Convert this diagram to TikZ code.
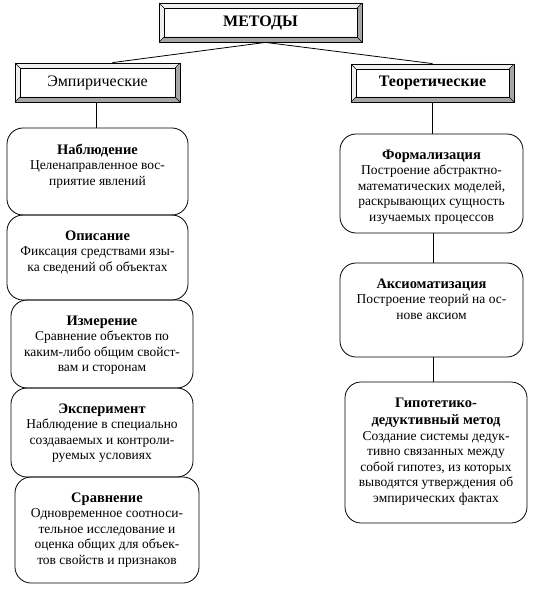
\documentclass[tikz,border=0pt]{standalone}
\usepackage{fontspec}
\setmainfont{Liberation Serif}
\usetikzlibrary{positioning}

\tikzset{
  bevel/.style={draw, line width=0.8pt, inner sep=0pt,
    font=\fontsize{16}{18}\selectfont,
    path picture={
      \coordinate (bsw) at (path picture bounding box.south west);
      \coordinate (bne) at (path picture bounding box.north east);
      \coordinate (bse) at (bsw -| bne);
      \coordinate (bnw) at (bsw |- bne);
      \fill[gray!70] (bsw) -- (bse) -- ([shift={(-5pt,5pt)}]bse) -- ([shift={(5pt,5pt)}]bsw) -- cycle;
      \fill[gray!70] (bse) -- (bne) -- ([shift={(-5pt,-5pt)}]bne) -- ([shift={(-5pt,5pt)}]bse) -- cycle;
      \fill[gray!12] (bnw) -- (bne) -- ([shift={(-5pt,-5pt)}]bne) -- ([shift={(5pt,-5pt)}]bnw) -- cycle;
      \fill[gray!12] (bsw) -- (bnw) -- ([shift={(5pt,-5pt)}]bnw) -- ([shift={(5pt,5pt)}]bsw) -- cycle;
      \draw[line width=0.6pt] ([shift={(5pt,5pt)}]bsw) rectangle ([shift={(-5pt,-5pt)}]bne);
      \draw[line width=0.4pt] (bsw) -- ([shift={(5pt,5pt)}]bsw) (bse) -- ([shift={(-5pt,5pt)}]bse)
        (bne) -- ([shift={(-5pt,-5pt)}]bne) (bnw) -- ([shift={(5pt,-5pt)}]bnw);
    }},
  method/.style={draw, line width=0.8pt, rounded corners=16pt},
  mtext/.style={anchor=north, align=center, inner sep=0pt,
    font=\fontsize{13.5}{15.5}\selectfont},
  link/.style={line width=0.8pt}
}
\newcommand{\mhead}[1]{{\fontsize{14.5}{15.5}\selectfont\bfseries #1}}

\begin{document}
\begin{tikzpicture}[x=1pt, y=-1pt]
\useasboundingbox (0,0) rectangle (535,591);

% headers
\node[bevel, minimum width=203pt, minimum height=39pt] (metody) at (260.5,22.5) {\bfseries МЕТОДЫ};
\node[bevel, minimum width=165pt, minimum height=39pt] (emp) at (97.5,82.5) {Эмпирические};
\node[bevel, minimum width=163pt, minimum height=38pt] (teor) at (432.5,83) {\bfseries Теоретические};

% empirical methods
\node[method, minimum width=181pt, minimum height=87pt] (nabl) at (97.5,171.5) {};
\node[method, minimum width=181pt, minimum height=85pt] (opis) at (97.5,257.5) {};
\node[method, minimum width=182pt, minimum height=88pt] (izm) at (102,344) {};
\node[method, minimum width=182pt, minimum height=89pt] (eksp) at (102,432.5) {};
\node[method, minimum width=184pt, minimum height=106pt] (sravn) at (107,530) {};

\node[mtext] (nabl-t) at ([yshift=-16pt]nabl.north) {\mhead{Наблюдение}\\Целенаправленное вос-\\приятие явлений};
\node[mtext] (opis-t) at ([yshift=-16pt]opis.north) {\mhead{Описание}\\Фиксация средствами язы-\\ка сведений об объектах};
\node[mtext] (izm-t) at ([yshift=-16pt]izm.north) {\mhead{Измерение}\\Сравнение объектов по\\каким-либо общим свойст-\\вам и сторонам};
\node[mtext] (eksp-t) at ([yshift=-16pt]eksp.north) {\mhead{Эксперимент}\\Наблюдение в специально\\создаваемых и контроли-\\руемых условиях};
\node[mtext] (sravn-t) at ([yshift=-16pt]sravn.north) {\mhead{Сравнение}\\Одновременное соотноси-\\тельное исследование и\\оценка общих для объек-\\тов свойств и признаков};

% theoretical methods
\node[method, minimum width=183pt, minimum height=99pt] (form) at (431.5,183.5) {};
\node[method, minimum width=183pt, minimum height=94pt] (aks) at (431.5,310) {};
\node[method, minimum width=182pt, minimum height=141pt] (gip) at (436,452.5) {};

\node[mtext] (form-t) at ([yshift=-16pt]form.north) {\mhead{Формализация}\\Построение абстрактно-\\математических моделей,\\раскрывающих сущность\\изучаемых процессов};
\node[mtext] (aks-t) at ([yshift=-16pt]aks.north) {\mhead{Аксиоматизация}\\Построение теорий на ос-\\нове аксиом};
\node[mtext] (gip-t) at ([yshift=-16pt]gip.north) {\mhead{Гипотетико-}\\[2pt]\mhead{дедуктивный метод}\\Создание системы дедук-\\тивно связанных между\\собой гипотез, из которых\\выводятся утверждения об\\эмпирических фактах};

% connectors
\draw[link] ([xshift=5pt]metody.south) -- ([xshift=15pt]emp.north);
\draw[link] ([xshift=5pt]metody.south) -- (teor.north);
\draw[link] ([xshift=-1pt]emp.south) -- ([xshift=-1pt]emp.south |- nabl.north);
\draw[link] (teor.south) -- (teor.south |- form.north);
\draw[link] ([xshift=1.5pt]form.south) -- ([xshift=1.5pt]form.south |- aks.north);
\draw[link] ([xshift=1.5pt]aks.south) -- ([xshift=1.5pt]aks.south |- gip.north);
\end{tikzpicture}
\end{document}
